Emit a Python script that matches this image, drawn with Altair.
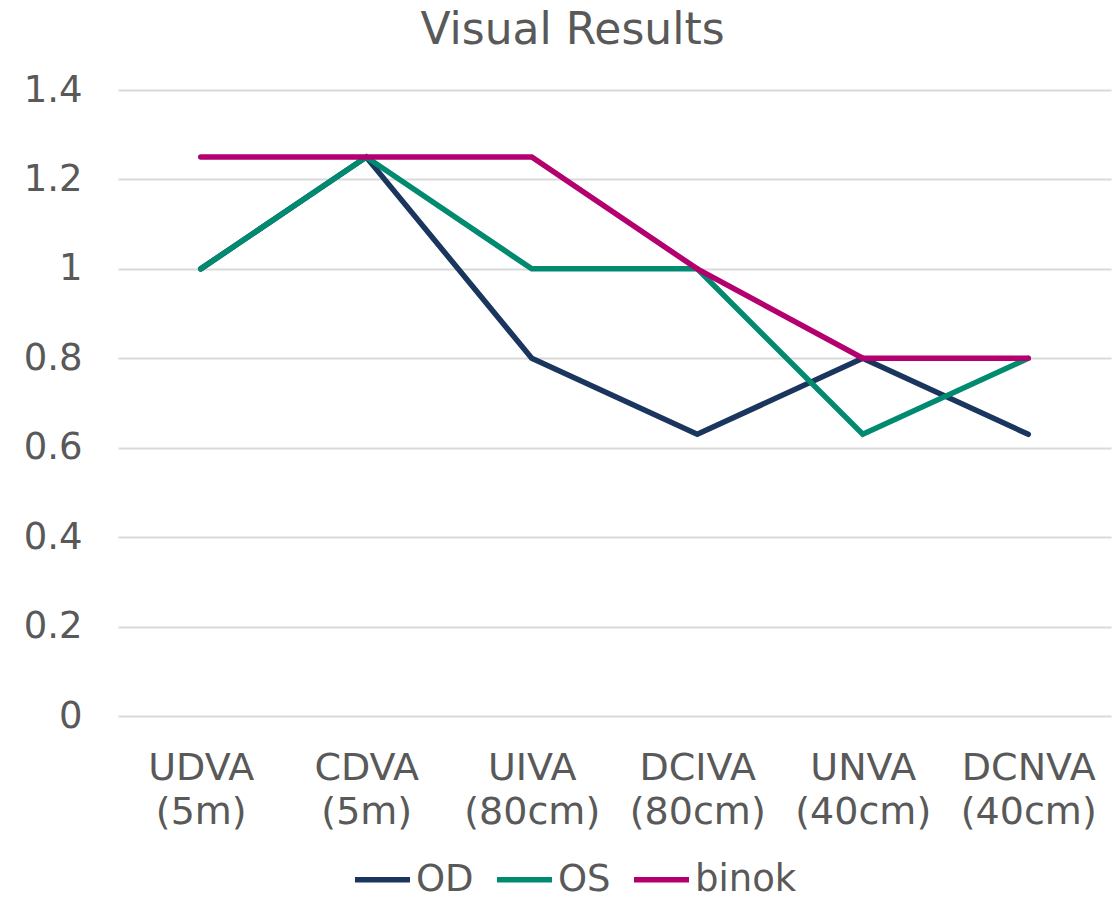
import altair as alt
import pandas as pd

categories = ["UDVA|(5m)", "CDVA|(5m)", "UIVA|(80cm)", "DCIVA|(80cm)", "UNVA|(40cm)", "DCNVA|(40cm)"]
series_names = ["OD", "OS", "binok"]
od = [1.0, 1.25, 0.8, 0.63, 0.8, 0.63]
os_ = [1.0, 1.25, 1.0, 1.0, 0.63, 0.8]
binok = [1.25, 1.25, 1.25, 1.0, 0.8, 0.8]
colors = ["#1b365e", "#008a6f", "#b4006f"]

rows = []
for name, vals in zip(series_names, [od, os_, binok]):
    for c, v in zip(categories, vals):
        rows.append({"cat": c, "series": name, "value": v})
df = pd.DataFrame(rows)

FONT = "DejaVu Sans"
TXT = "#595959"
FS = 37

chart = alt.Chart(df).mark_line(strokeWidth=5.5, strokeCap="round", strokeJoin="miter").encode(
    x=alt.X("cat:N", sort=categories, title=None,
            scale=alt.Scale(type="point", padding=0.5),
            axis=alt.Axis(labelExpr="split(datum.label, '|')", labelAngle=0,
                          labelFontSize=38, labelFont=FONT, labelColor=TXT,
                          labelLineHeight=44, labelPadding=33, labelBaseline="top",
                          ticks=False, domain=False, grid=False)),
    y=alt.Y("value:Q", title=None,
            scale=alt.Scale(domain=[0, 1.4], nice=False),
            axis=alt.Axis(values=[0, 0.2, 0.4, 0.6, 0.8, 1.0, 1.2, 1.4], format="~g",
                          labelFontSize=FS, labelFont=FONT, labelColor=TXT,
                          labelPadding=36, ticks=False, domain=False,
                          gridColor="#d9d9d9", gridWidth=2)),
    color=alt.Color("series:N", scale=alt.Scale(domain=series_names, range=colors),
                    legend=alt.Legend(title=None, orient="none", direction="horizontal",
                                      legendX=234, legendY=759,
                                      symbolType="stroke", symbolSize=3025,
                                      symbolStrokeWidth=5.5,
                                      labelFontSize=FS, labelFont=FONT, labelColor=TXT,
                                      labelOffset=3, columnPadding=12)),
).properties(
    width=993,
    height=626,
    title=alt.TitleParams("Visual Results", fontSize=44, font=FONT, color=TXT,
                          fontWeight="normal", anchor="middle", dx=-42, offset=18),
    autosize=alt.AutoSizeParams(type="none"),
    padding={"left": 110, "top": 82, "right": 1, "bottom": 184},
).configure_view(stroke=None)

chart.save("out.html", embed_options={"renderer": "svg", "actions": False})
